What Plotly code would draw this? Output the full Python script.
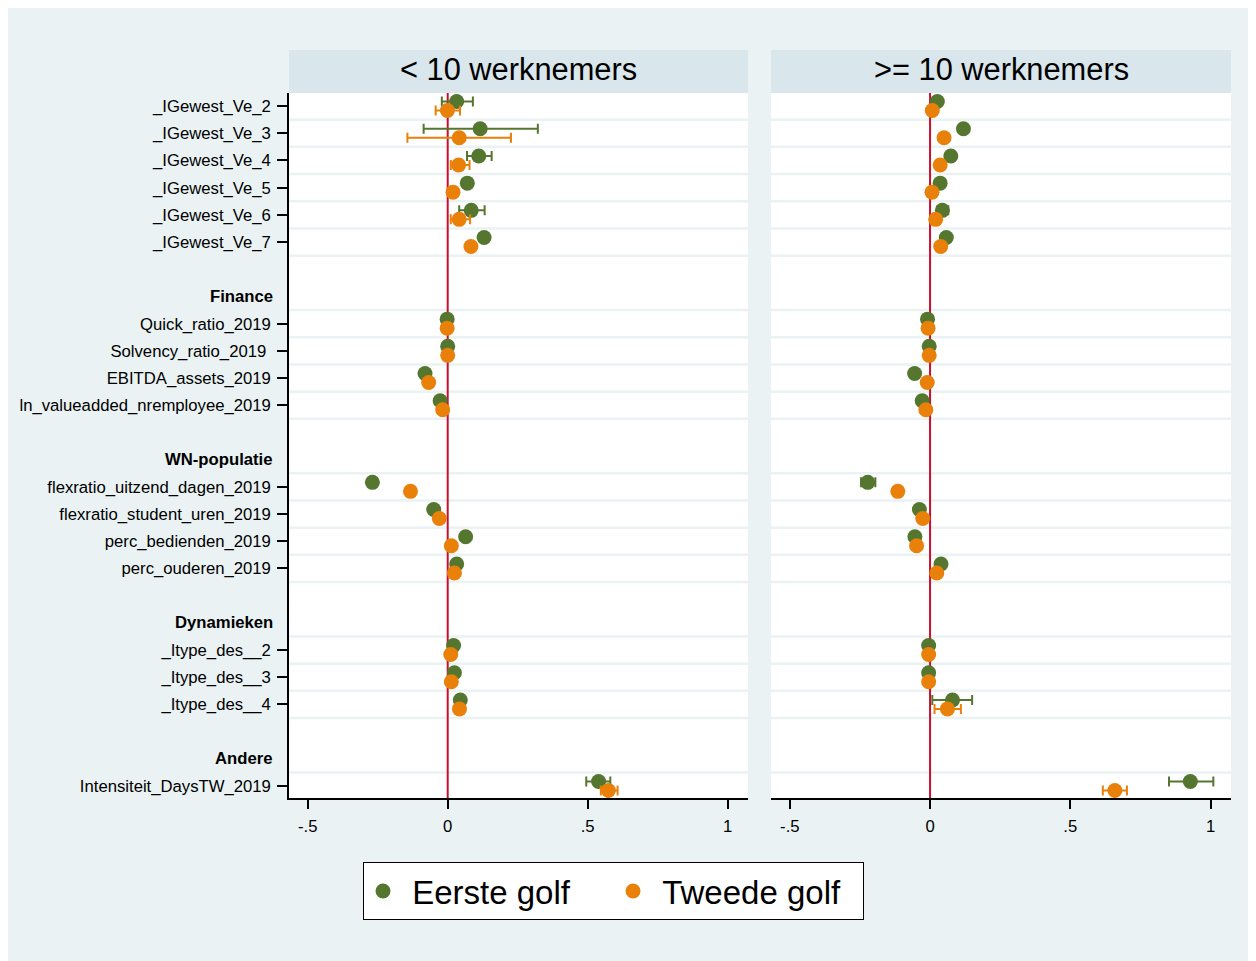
import plotly.graph_objects as go

# ---------------- data ----------------
panel_titles = ["< 10 werknemers", ">= 10 werknemers"]
series_names = ["Eerste golf", "Tweede golf"]
series_colors = ["#55762F", "#E8800A"]

group_headers = ["", "Finance", "WN-populatie", "Dynamieken", "Andere"]
group_items = [
    ["_IGewest_Ve_2", "_IGewest_Ve_3", "_IGewest_Ve_4", "_IGewest_Ve_5",
     "_IGewest_Ve_6", "_IGewest_Ve_7"],
    ["Quick_ratio_2019", "Solvency_ratio_2019\u00a0", "EBITDA_assets_2019",
     "ln_valueadded_nremployee_2019"],
    ["flexratio_uitzend_dagen_2019", "flexratio_student_uren_2019",
     "perc_bedienden_2019", "perc_ouderen_2019"],
    ["_Itype_des__2", "_Itype_des__3", "_Itype_des__4"],
    ["Intensiteit_DaysTW_2019"],
]

# < 10 werknemers, Eerste golf
small_g1_coef = [0.032, 0.116, 0.111, 0.070, 0.084, 0.130,
                 -0.002, 0.000, -0.081, -0.027,
                 -0.269, -0.050, 0.064, 0.032,
                 0.021, 0.024, 0.045,
                 0.539]
small_g1_lo = [-0.021, -0.086, 0.069, 0.058, 0.041, 0.120,
               -0.009, -0.007, -0.089, -0.034,
               -0.283, -0.057, 0.057, 0.025,
               0.014, 0.017, 0.036,
               0.495]
small_g1_hi = [0.090, 0.322, 0.157, 0.082, 0.132, 0.140,
               0.005, 0.007, -0.073, -0.020,
               -0.255, -0.043, 0.071, 0.039,
               0.028, 0.031, 0.054,
               0.581]
# < 10 werknemers, Tweede golf
small_g2_coef = [-0.001, 0.041, 0.039, 0.019, 0.041, 0.083,
                 -0.002, 0.000, -0.068, -0.018,
                 -0.133, -0.030, 0.013, 0.024,
                 0.011, 0.013, 0.042,
                 0.574]
small_g2_lo = [-0.043, -0.144, 0.011, 0.008, 0.011, 0.073,
               -0.008, -0.006, -0.075, -0.025,
               -0.145, -0.036, 0.007, 0.018,
               0.005, 0.007, 0.034,
               0.547]
small_g2_hi = [0.044, 0.226, 0.078, 0.030, 0.080, 0.093,
               0.004, 0.006, -0.061, -0.011,
               -0.122, -0.024, 0.019, 0.030,
               0.017, 0.019, 0.050,
               0.607]
# >= 10 werknemers, Eerste golf
large_g1_coef = [0.026, 0.119, 0.074, 0.036, 0.044, 0.058,
                 -0.009, -0.003, -0.055, -0.028,
                 -0.222, -0.038, -0.054, 0.039,
                 -0.005, -0.005, 0.080,
                 0.928]
large_g1_lo = [0.018, 0.108, 0.065, 0.029, 0.026, 0.050,
               -0.014, -0.008, -0.063, -0.034,
               -0.246, -0.044, -0.060, 0.033,
               -0.009, -0.009, 0.008,
               0.852]
large_g1_hi = [0.034, 0.130, 0.083, 0.043, 0.065, 0.066,
               -0.004, 0.002, -0.046, -0.022,
               -0.195, -0.032, -0.048, 0.045,
               -0.001, -0.001, 0.150,
               1.010]
# >= 10 werknemers, Tweede golf
large_g2_coef = [0.008, 0.050, 0.036, 0.007, 0.020, 0.038,
                 -0.007, -0.003, -0.010, -0.015,
                 -0.115, -0.026, -0.048, 0.024,
                 -0.005, -0.005, 0.062,
                 0.659]
large_g2_lo = [0.001, 0.043, 0.029, 0.000, 0.013, 0.031,
               -0.011, -0.007, -0.016, -0.020,
               -0.127, -0.031, -0.053, 0.019,
               -0.009, -0.009, 0.016,
               0.616]
large_g2_hi = [0.015, 0.057, 0.043, 0.014, 0.027, 0.045,
               -0.003, 0.001, -0.004, -0.010,
               -0.099, -0.021, -0.043, 0.029,
               -0.001, -0.001, 0.110,
               0.702]

x_tickvals = [-0.5, 0, 0.5, 1]
x_ticktext = ["-.5", "0", ".5", "1"]

# ---------------- layout of rows ----------------
item_labels, item_rows, header_rows = [], [], []
row = 0
for gi, (hdr, its) in enumerate(zip(group_headers, group_items)):
    if hdr:
        row += 2 if gi > 0 else 1
        header_rows.append((hdr, row))
    for it in its:
        row += 1
        item_labels.append(it)
        item_rows.append(row)

y_range = [26.44, 0.52]
offset = 0.165

panels = [
    [(small_g1_coef, small_g1_lo, small_g1_hi), (small_g2_coef, small_g2_lo, small_g2_hi)],
    [(large_g1_coef, large_g1_lo, large_g1_hi), (large_g2_coef, large_g2_lo, large_g2_hi)],
]

FONT = "Liberation Sans, Arial, sans-serif"
fig = go.Figure()
for p, pdata in enumerate(panels):
    xa = "x" if p == 0 else "x2"
    ya = "y" if p == 0 else "y2"
    for s, (coef, lo, hi) in enumerate(pdata):
        off = -offset if s == 0 else offset
        fig.add_trace(go.Scatter(
            x=coef,
            y=[r + off for r in item_rows],
            mode="markers",
            name="\u00a0" + series_names[s],
            legendgroup=series_names[s],
            showlegend=(p == 0),
            marker=dict(color=series_colors[s], size=15, line=dict(width=0)),
            error_x=dict(type="data", symmetric=False,
                         array=[h - c for c, h in zip(coef, hi)],
                         arrayminus=[c - l for c, l in zip(coef, lo)],
                         color=series_colors[s], thickness=2, width=5),
            xaxis=xa, yaxis=ya, hoverinfo="skip",
        ))

shapes = []
grid_rows = [r + 0.5 for r in item_rows] + [r + 0.5 for _, r in header_rows]
for xd, yr in (("x domain", "y"), ("x2 domain", "y2")):
    for g in grid_rows:
        if g < y_range[0]:
            shapes.append(dict(type="line", xref=xd, yref=yr, x0=0, x1=1, y0=g, y1=g,
                               line=dict(color="#EAF2F3", width=2.5), layer="below"))
for xr, yd in (("x", "y domain"), ("x2", "y2 domain")):
    shapes.append(dict(type="line", xref=xr, yref=yd, x0=0, x1=0, y0=0, y1=1,
                       line=dict(color="#C8102E", width=2), layer="below"))
strip_h = 43 / 705
for xd in ("x domain", "x2 domain"):
    shapes.append(dict(type="rect", xref=xd, yref="paper", x0=0, x1=1, y0=1, y1=1 + strip_h,
                       fillcolor="#D9E6EB", line=dict(width=0)))

annotations = []
for i, xd in enumerate(("x domain", "x2 domain")):
    annotations.append(dict(text=panel_titles[i], xref=xd, yref="paper", x=0.5,
                            y=1 + strip_h / 2, xanchor="center", yanchor="middle", yshift=2,
                            showarrow=False, font=dict(size=30.8, color="black", family=FONT)))
for hdr, r in header_rows:
    annotations.append(dict(text="<b>" + hdr + "</b>", xref="paper", yref="y", x=0, y=r,
                            xanchor="right", yanchor="middle", xshift=-14, showarrow=False,
                            font=dict(size=16.7, color="black", family=FONT)))

xcommon = dict(range=[-0.567, 1.073], tickvals=x_tickvals, ticktext=x_ticktext,
               ticks="outside", ticklen=9, tickcolor="black", tickwidth=1.5,
               showline=True, linecolor="black", linewidth=1.5,
               showgrid=False, zeroline=False, ticklabelstandoff=3, automargin=False,
               tickfont=dict(size=16.7, color="black", family=FONT))

fig.update_layout(
    width=1242, height=953,
    margin=dict(l=281, r=19, t=85, b=163, autoexpand=False),
    paper_bgcolor="#EAF2F3", plot_bgcolor="white",
    font=dict(family=FONT, color="black"),
    xaxis=dict(domain=[0, 0.4873], anchor="y", **xcommon),
    xaxis2=dict(domain=[0.5117, 1], anchor="y2", **xcommon),
    yaxis=dict(range=y_range, tickvals=item_rows, ticktext=item_labels,
               ticks="outside", ticklen=10, tickcolor="black", tickwidth=1.5,
               showline=True, linecolor="black", linewidth=1.5,
               showgrid=False, zeroline=False, anchor="x", ticklabelstandoff=3,
               automargin=False,
               tickfont=dict(size=16.7, color="black", family=FONT)),
    yaxis2=dict(range=y_range, matches="y", anchor="x2", showticklabels=False,
                ticks="", showline=False, showgrid=False, zeroline=False, automargin=False),
    shapes=shapes, annotations=annotations,
    legend=dict(orientation="h", x=0.3445, xanchor="center", y=-0.0908, yanchor="top",
                bgcolor="white", bordercolor="black", borderwidth=1, entrywidth=205,
                font=dict(size=33, color="black", family=FONT)),
)

fig.write_html("out.html")
